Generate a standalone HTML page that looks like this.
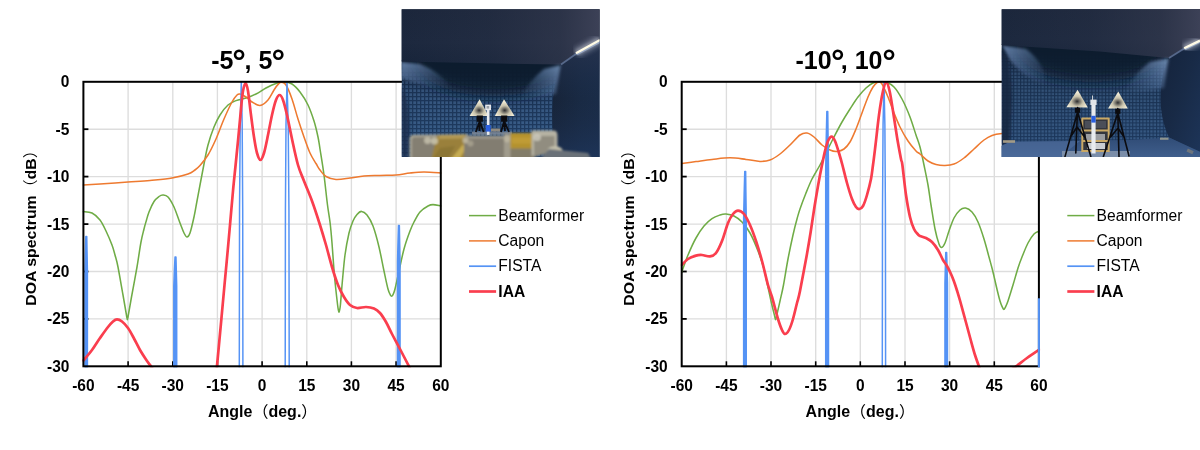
<!DOCTYPE html>
<html lang="en"><head><meta charset="utf-8"><title>DOA spectrum</title>
<style>
html,body{margin:0;padding:0;background:#fff;}
body{width:1200px;height:450px;overflow:hidden;}
svg{display:block;}
text{font-family:"Liberation Sans","Noto Sans CJK SC",sans-serif;fill:#000;}
.tk text{font-size:15.5px;font-weight:bold;}
.ax{font-size:16px;font-weight:bold;}
.pr{font-weight:normal;}
.tt{font-size:25px;font-weight:bold;}
.dg{font-size:34px;}
.lg{font-size:15.6px;}
.lgb{font-size:15.6px;font-weight:bold;}
</style></head>
<body>
<svg width="1200" height="450" viewBox="0 0 1200 450">
<rect width="1200" height="450" fill="#fff"/>

<defs>
<clipPath id="pc1"><rect x="401.6" y="9.2" width="198" height="147.8"/></clipPath>
<clipPath id="pc2"><rect x="1001.6" y="9.2" width="198.4" height="147.8"/></clipPath>
<linearGradient id="p1bg" x1="0" y1="0" x2="0" y2="1">
<stop offset="0" stop-color="#17233a"/><stop offset="0.35" stop-color="#172b48"/><stop offset="0.6" stop-color="#203e66"/><stop offset="0.8" stop-color="#244772"/><stop offset="1" stop-color="#254a7a"/></linearGradient>
<linearGradient id="p1shade" x1="0" y1="0" x2="0" y2="1">
<stop offset="0" stop-color="#111c2f" stop-opacity="1"/><stop offset="0.25" stop-color="#121e32" stop-opacity="0.9"/><stop offset="0.5" stop-color="#142136" stop-opacity="0.55"/><stop offset="0.75" stop-color="#142136" stop-opacity="0.22"/><stop offset="1" stop-color="#142136" stop-opacity="0"/></linearGradient>
<linearGradient id="ceilx" x1="0" y1="0" x2="1" y2="0">
<stop offset="0" stop-color="#3c4054" stop-opacity="0"/><stop offset="0.45" stop-color="#3c4054" stop-opacity="0.18"/><stop offset="0.8" stop-color="#3c4054" stop-opacity="0.5"/><stop offset="1" stop-color="#40445a" stop-opacity="0.9"/></linearGradient>
<linearGradient id="p1rw" x1="0" y1="0" x2="1" y2="0">
<stop offset="0" stop-color="#172439"/><stop offset="0.6" stop-color="#192a44"/><stop offset="1" stop-color="#1a2c48"/></linearGradient>
<linearGradient id="rwv" x1="0" y1="0" x2="0" y2="1">
<stop offset="0" stop-color="#2c3650" stop-opacity="0.8"/><stop offset="0.5" stop-color="#1c2e4c" stop-opacity="0"/><stop offset="1" stop-color="#213c68" stop-opacity="0.5"/></linearGradient>
<linearGradient id="glowL" x1="0" y1="0" x2="1" y2="1">
<stop offset="0" stop-color="#7391bb" stop-opacity="0.85"/><stop offset="0.45" stop-color="#5c7ca8" stop-opacity="0.5"/><stop offset="1" stop-color="#4a6a96" stop-opacity="0"/></linearGradient>
<linearGradient id="glowR" x1="1" y1="0" x2="0" y2="1">
<stop offset="0" stop-color="#7d9bc4" stop-opacity="0.85"/><stop offset="0.45" stop-color="#5c7ca8" stop-opacity="0.5"/><stop offset="1" stop-color="#4a6a96" stop-opacity="0"/></linearGradient>
<filter id="b6" x="-30%" y="-50%" width="160%" height="200%"><feGaussianBlur stdDeviation="7"/></filter>
<filter id="b15" x="-10%" y="-30%" width="120%" height="160%"><feGaussianBlur stdDeviation="1.3"/></filter>
<linearGradient id="p1ceil" x1="0" y1="0" x2="0" y2="1">
<stop offset="0" stop-color="#1b263b"/><stop offset="0.6" stop-color="#1c283e"/><stop offset="1" stop-color="#17243a"/></linearGradient>
<linearGradient id="p2ceil" x1="0" y1="0" x2="0" y2="1">
<stop offset="0" stop-color="#142036"/><stop offset="1" stop-color="#1b2b45"/></linearGradient>
<linearGradient id="p1wall" x1="0" y1="0" x2="0" y2="1">
<stop offset="0" stop-color="#223c60"/><stop offset="0.3" stop-color="#2c4c78"/><stop offset="1" stop-color="#28446c"/></linearGradient>
<linearGradient id="p2wall" x1="0" y1="0" x2="0" y2="1">
<stop offset="0" stop-color="#213a5e"/><stop offset="0.3" stop-color="#2a4873"/><stop offset="1" stop-color="#243f66"/></linearGradient>
<linearGradient id="p2floor" x1="0" y1="0" x2="0" y2="1">
<stop offset="0" stop-color="#304c76"/><stop offset="1" stop-color="#3f5e8c"/></linearGradient>
<linearGradient id="p2bg" x1="0" y1="0" x2="0" y2="1">
<stop offset="0" stop-color="#17233a"/><stop offset="0.26" stop-color="#162a47"/><stop offset="0.55" stop-color="#1d395c"/><stop offset="0.8" stop-color="#21426c"/><stop offset="1" stop-color="#224470"/></linearGradient>
<linearGradient id="p2rw" x1="0" y1="0" x2="1" y2="1">
<stop offset="0" stop-color="#14223a"/><stop offset="0.5" stop-color="#182a46"/><stop offset="1" stop-color="#1d3458"/></linearGradient>
<pattern id="gridpat2" width="3.4" height="3.4" patternUnits="userSpaceOnUse">
<rect width="3.4" height="3.4" fill="#12223c"/><rect x="1.1" y="1.1" width="2.3" height="2.3" fill="#5679a2"/></pattern>
<radialGradient id="refl" cx="0.5" cy="0.66" r="0.5">
<stop offset="0" stop-color="#2e2e30"/><stop offset="0.22" stop-color="#6e6c64"/><stop offset="0.55" stop-color="#c9c3ac"/><stop offset="1" stop-color="#f0ead3"/></radialGradient>
<pattern id="gridpat" width="4" height="4" patternUnits="userSpaceOnUse">
<rect width="4" height="4" fill="#13233c"/><rect x="1.3" y="1.3" width="2.7" height="2.7" fill="#5a7ea8"/></pattern>
<filter id="b2" x="-20%" y="-20%" width="140%" height="140%"><feGaussianBlur stdDeviation="1.5"/></filter>
<filter id="b3" x="-10%" y="-30%" width="120%" height="160%"><feGaussianBlur stdDeviation="2"/></filter>
<filter id="b4" x="-50%" y="-50%" width="200%" height="200%"><feGaussianBlur stdDeviation="5"/></filter>
</defs>

<line x1="128.1" y1="81.8" x2="128.1" y2="366.3" stroke="#dddddd" stroke-width="1.35"/>
<line x1="172.8" y1="81.8" x2="172.8" y2="366.3" stroke="#dddddd" stroke-width="1.35"/>
<line x1="217.4" y1="81.8" x2="217.4" y2="366.3" stroke="#dddddd" stroke-width="1.35"/>
<line x1="262.1" y1="81.8" x2="262.1" y2="366.3" stroke="#dddddd" stroke-width="1.35"/>
<line x1="306.8" y1="81.8" x2="306.8" y2="366.3" stroke="#dddddd" stroke-width="1.35"/>
<line x1="351.4" y1="81.8" x2="351.4" y2="366.3" stroke="#dddddd" stroke-width="1.35"/>
<line x1="396.1" y1="81.8" x2="396.1" y2="366.3" stroke="#dddddd" stroke-width="1.35"/>
<line x1="83.4" y1="129.2" x2="440.8" y2="129.2" stroke="#dddddd" stroke-width="1.35"/>
<line x1="83.4" y1="176.6" x2="440.8" y2="176.6" stroke="#dddddd" stroke-width="1.35"/>
<line x1="83.4" y1="224.1" x2="440.8" y2="224.1" stroke="#dddddd" stroke-width="1.35"/>
<line x1="83.4" y1="271.5" x2="440.8" y2="271.5" stroke="#dddddd" stroke-width="1.35"/>
<line x1="83.4" y1="318.9" x2="440.8" y2="318.9" stroke="#dddddd" stroke-width="1.35"/>
<line x1="128.1" y1="366.3" x2="128.1" y2="361.3" stroke="#000" stroke-width="1.6"/>
<line x1="172.8" y1="366.3" x2="172.8" y2="361.3" stroke="#000" stroke-width="1.6"/>
<line x1="217.4" y1="366.3" x2="217.4" y2="361.3" stroke="#000" stroke-width="1.6"/>
<line x1="262.1" y1="366.3" x2="262.1" y2="361.3" stroke="#000" stroke-width="1.6"/>
<line x1="306.8" y1="366.3" x2="306.8" y2="361.3" stroke="#000" stroke-width="1.6"/>
<line x1="351.4" y1="366.3" x2="351.4" y2="361.3" stroke="#000" stroke-width="1.6"/>
<line x1="396.1" y1="366.3" x2="396.1" y2="361.3" stroke="#000" stroke-width="1.6"/>
<line x1="83.4" y1="129.2" x2="88.4" y2="129.2" stroke="#000" stroke-width="1.8"/>
<line x1="83.4" y1="176.6" x2="88.4" y2="176.6" stroke="#000" stroke-width="1.8"/>
<line x1="83.4" y1="224.1" x2="88.4" y2="224.1" stroke="#000" stroke-width="1.8"/>
<line x1="83.4" y1="271.5" x2="88.4" y2="271.5" stroke="#000" stroke-width="1.8"/>
<line x1="83.4" y1="318.9" x2="88.4" y2="318.9" stroke="#000" stroke-width="1.8"/>
<clipPath id="clip0"><rect x="82.4" y="80.8" width="359.6" height="286.5"/></clipPath>
<g clip-path="url(#clip0)" fill="none" stroke-linejoin="round" stroke-linecap="round">
<path d="M83.3,211.6 C84.8,211.8 89.2,211.6 92.0,213.0 C94.8,214.4 97.7,217.0 100.0,220.0 C102.3,223.0 104.0,226.8 106.0,231.0 C108.0,235.2 110.5,241.0 112.0,245.0 C113.5,249.0 114.0,251.3 115.0,255.0 C116.0,258.7 116.7,260.3 118.0,267.0 C119.3,273.7 121.6,287.2 123.0,295.0 C124.4,302.8 125.5,309.4 126.2,313.5 C126.9,317.6 127.0,319.6 127.4,319.6 C127.8,319.6 127.9,317.3 128.6,313.5 C129.3,309.7 130.1,304.8 131.5,297.0 C132.9,289.2 135.4,276.2 137.0,267.0 C138.6,257.8 139.8,248.3 141.0,242.0 C142.2,235.7 143.1,232.7 144.0,229.0 C144.9,225.3 145.7,222.8 146.5,220.0 C147.3,217.2 147.8,215.1 149.0,212.0 C150.2,208.9 152.3,204.1 154.0,201.5 C155.7,198.9 157.5,197.6 159.0,196.5 C160.5,195.4 161.5,194.9 163.0,195.0 C164.5,195.1 166.2,195.0 168.0,197.0 C169.8,199.0 172.0,202.7 174.0,207.0 C176.0,211.3 178.3,218.7 180.0,223.0 C181.7,227.3 182.8,230.7 184.0,233.0 C185.2,235.3 186.0,237.0 187.0,237.0 C188.0,237.0 188.8,236.3 190.0,233.0 C191.2,229.7 192.8,222.3 194.0,217.0 C195.2,211.7 196.0,206.3 197.0,201.0 C198.0,195.7 198.8,191.2 200.0,185.0 C201.2,178.8 202.7,170.7 204.0,164.0 C205.3,157.3 206.3,151.2 208.0,145.0 C209.7,138.8 212.0,132.0 214.0,127.0 C216.0,122.0 217.7,118.7 220.0,115.0 C222.3,111.3 225.3,107.4 228.0,105.0 C230.7,102.6 233.0,101.8 236.0,100.6 C239.0,99.4 242.7,99.1 246.0,98.0 C249.3,96.9 252.7,95.7 256.0,94.0 C259.3,92.3 262.7,89.8 266.0,88.0 C269.3,86.2 273.0,84.4 276.0,83.4 C279.0,82.4 281.3,81.9 284.0,82.0 C286.7,82.1 289.3,82.3 292.0,84.0 C294.7,85.7 297.3,88.5 300.0,92.0 C302.7,95.5 305.7,100.2 308.0,105.0 C310.3,109.8 312.3,115.7 314.0,121.0 C315.7,126.3 317.0,132.3 318.0,137.0 C319.0,141.7 319.0,142.7 320.0,149.0 C321.0,155.3 322.8,165.7 324.0,175.0 C325.2,184.3 326.5,197.2 327.5,205.0 C328.5,212.8 329.2,215.7 330.0,222.0 C330.8,228.3 331.3,234.2 332.0,243.0 C332.7,251.8 333.5,264.7 334.4,275.0 C335.3,285.3 336.9,299.1 337.6,305.0 C338.3,310.9 338.3,309.3 338.5,310.5 C338.7,311.7 338.8,312.2 339.0,312.2 C339.2,312.2 339.3,311.7 339.5,310.5 C339.7,309.3 339.9,309.9 340.4,305.0 C340.9,300.1 341.6,289.3 342.4,281.0 C343.2,272.7 343.9,263.0 345.0,255.0 C346.1,247.0 347.7,238.7 349.0,233.0 C350.3,227.3 351.7,224.1 353.0,221.0 C354.3,217.9 355.6,216.1 357.0,214.5 C358.4,212.9 359.9,211.3 361.6,211.4 C363.3,211.5 365.1,212.6 367.0,215.0 C368.9,217.4 371.0,220.7 373.0,226.0 C375.0,231.3 377.2,239.5 379.0,247.0 C380.8,254.5 382.5,264.0 384.0,271.0 C385.5,278.0 386.9,285.0 388.0,289.0 C389.1,293.0 389.7,293.6 390.3,294.8 C390.9,296.0 391.2,296.2 391.6,296.2 C392.0,296.2 392.3,296.0 392.9,294.8 C393.5,293.6 394.0,293.0 395.0,289.0 C396.0,285.0 397.5,277.7 399.0,271.0 C400.5,264.3 402.2,255.7 404.0,249.0 C405.8,242.3 408.3,235.5 410.0,231.0 C411.7,226.5 412.3,225.2 414.0,222.0 C415.7,218.8 417.7,214.7 420.0,212.0 C422.3,209.3 425.8,207.2 428.0,206.0 C430.2,204.8 430.9,204.6 433.0,204.6 C435.1,204.6 439.5,205.8 440.8,206.0" stroke="#6fac46" stroke-width="1.55"/>
<path d="M83.3,185.0 C86.1,184.8 92.5,184.5 100.0,184.0 C107.5,183.5 119.7,182.6 128.0,182.0 C136.3,181.4 142.7,181.1 150.0,180.4 C157.3,179.7 165.7,179.1 172.0,178.0 C178.3,176.9 184.2,175.3 188.0,174.0 C191.8,172.7 193.0,171.4 195.0,170.0 C197.0,168.6 197.8,168.0 200.0,165.5 C202.2,163.0 205.3,159.4 208.0,155.0 C210.7,150.6 213.3,145.0 216.0,139.0 C218.7,133.0 221.3,125.2 224.0,119.0 C226.7,112.8 229.8,106.0 232.0,102.0 C234.2,98.0 235.7,96.3 237.0,95.0 C238.3,93.7 238.5,93.7 240.0,94.0 C241.5,94.3 244.0,95.7 246.0,97.0 C248.0,98.3 249.7,100.6 252.0,102.0 C254.3,103.4 257.3,105.7 260.0,105.4 C262.7,105.1 265.7,102.6 268.0,100.0 C270.3,97.4 272.2,92.8 274.0,90.0 C275.8,87.2 277.7,84.7 279.0,83.4 C280.3,82.1 280.8,82.1 282.0,82.4 C283.2,82.7 284.3,82.2 286.0,85.0 C287.7,87.8 290.0,93.3 292.0,99.0 C294.0,104.7 296.0,112.7 298.0,119.0 C300.0,125.3 302.0,131.3 304.0,137.0 C306.0,142.7 308.0,148.6 310.0,153.0 C312.0,157.4 314.3,160.7 316.0,163.5 C317.7,166.3 318.3,167.8 320.0,170.0 C321.7,172.2 323.3,174.9 326.0,176.5 C328.7,178.1 332.0,179.2 336.0,179.4 C340.0,179.7 345.3,178.6 350.0,178.0 C354.7,177.4 359.0,176.4 364.0,176.0 C369.0,175.6 374.7,175.6 380.0,175.4 C385.3,175.2 391.0,175.4 396.0,175.0 C401.0,174.6 405.3,173.5 410.0,173.0 C414.7,172.5 418.9,172.0 424.0,172.0 C429.1,172.0 438.0,172.8 440.8,173.0" stroke="#ee7a30" stroke-width="1.55"/>
<path d="M85.00,368.30 L85.00,270.06 L85.45,251.33 L85.85,236.60 L86.75,236.60 L87.02,251.33 L87.40,270.06 L87.40,368.30Z" stroke="#5593f5" stroke-width="1.5" fill="#5593f5"/>
<path d="M173.80,368.30 L173.80,286.30 L174.40,269.80 L175.05,256.90 L175.95,256.90 L176.28,269.80 L176.70,286.30 L176.70,368.30Z" stroke="#5593f5" stroke-width="1.5" fill="#5593f5"/>
<path d="M239.30,368.30 L239.54,209.94 L240.20,124.65 L241.30,82.00 L242.18,124.65 L242.71,209.94 L242.90,368.30" stroke="#5593f5" stroke-width="1.5"/>
<path d="M285.20,368.30 L285.42,209.94 L286.01,124.65 L287.00,82.00 L288.21,124.65 L288.94,209.94 L289.20,368.30" stroke="#5593f5" stroke-width="1.5"/>
<path d="M397.55,368.30 L397.55,261.26 L398.02,241.32 L398.45,225.60 L399.35,225.60 L399.65,241.32 L400.05,261.26 L400.05,368.30Z" stroke="#5593f5" stroke-width="1.5" fill="#5593f5"/>

<path d="M83.3,360.5 C84.8,358.8 89.2,353.8 92.0,350.0 C94.8,346.2 97.3,341.8 100.0,338.0 C102.7,334.2 105.8,329.8 108.0,327.0 C110.2,324.2 111.5,322.8 113.0,321.5 C114.5,320.2 115.5,319.4 117.0,319.4 C118.5,319.4 120.2,320.1 122.0,321.5 C123.8,322.9 126.0,325.2 128.0,328.0 C130.0,330.8 132.0,334.8 134.0,338.5 C136.0,342.2 138.0,346.5 140.0,350.0 C142.0,353.5 144.2,356.8 146.0,359.5 C147.8,362.2 149.5,364.3 151.0,366.4 C152.5,368.5 154.3,371.1 155.0,372.0" stroke="#fa3e4e" stroke-width="2.7"/>
<path d="M215.5,380.0 C215.8,377.7 215.5,381.8 217.0,366.0 C218.5,350.2 222.8,303.5 224.5,285.0 C226.2,266.5 226.4,265.0 227.3,255.0 C228.2,245.0 229.1,235.7 230.0,225.0 C230.9,214.3 232.1,201.0 233.0,191.0 C233.9,181.0 234.8,173.3 235.6,165.0 C236.4,156.7 237.1,150.3 238.0,141.0 C238.9,131.7 240.2,117.3 241.0,109.0 C241.8,100.7 242.2,95.3 243.0,91.0 C243.8,86.7 244.8,83.0 245.6,83.0 C246.4,83.0 247.1,85.7 248.0,91.0 C248.9,96.3 250.0,107.3 251.0,115.0 C252.0,122.7 253.0,130.7 254.0,137.0 C255.0,143.3 255.9,149.2 257.0,153.0 C258.1,156.8 259.2,160.0 260.4,160.0 C261.6,160.0 262.7,157.2 264.0,153.0 C265.3,148.8 266.7,141.3 268.0,135.0 C269.3,128.7 270.7,120.8 272.0,115.0 C273.3,109.2 274.7,103.3 276.0,100.0 C277.3,96.7 278.4,95.0 279.6,95.0 C280.8,95.0 281.8,96.7 283.0,100.0 C284.2,103.3 285.5,108.5 287.0,115.0 C288.5,121.5 290.2,130.7 292.0,139.0 C293.8,147.3 296.0,158.0 298.0,165.0 C300.0,172.0 301.7,175.0 304.0,181.0 C306.3,187.0 309.3,193.7 312.0,201.0 C314.7,208.3 317.7,217.7 320.0,225.0 C322.3,232.3 324.0,238.0 326.0,245.0 C328.0,252.0 330.0,260.3 332.0,267.0 C334.0,273.7 336.0,280.0 338.0,285.0 C340.0,290.0 342.0,293.7 344.0,297.0 C346.0,300.3 347.8,303.2 350.0,305.0 C352.2,306.8 354.3,307.7 357.0,308.0 C359.7,308.3 363.2,306.9 366.0,307.0 C368.8,307.1 371.7,307.6 374.0,308.6 C376.3,309.6 378.0,310.8 380.0,313.0 C382.0,315.2 384.0,318.5 386.0,322.0 C388.0,325.5 389.7,329.5 392.0,334.0 C394.3,338.5 397.2,343.6 400.0,349.0 C402.8,354.4 406.8,362.2 409.0,366.4 C411.2,370.6 412.3,372.7 413.0,374.0" stroke="#fa3e4e" stroke-width="2.7"/>
</g>
<rect x="83.4" y="81.8" width="357.4" height="284.5" fill="none" stroke="#000" stroke-width="2"/>
<g class="tk">
<text transform="translate(83.4,390.8) scale(1,1.06)" text-anchor="middle">-60</text>
<text transform="translate(128.1,390.8) scale(1,1.06)" text-anchor="middle">-45</text>
<text transform="translate(172.8,390.8) scale(1,1.06)" text-anchor="middle">-30</text>
<text transform="translate(217.4,390.8) scale(1,1.06)" text-anchor="middle">-15</text>
<text transform="translate(262.1,390.8) scale(1,1.06)" text-anchor="middle">0</text>
<text transform="translate(306.8,390.8) scale(1,1.06)" text-anchor="middle">15</text>
<text transform="translate(351.4,390.8) scale(1,1.06)" text-anchor="middle">30</text>
<text transform="translate(396.1,390.8) scale(1,1.06)" text-anchor="middle">45</text>
<text transform="translate(440.8,390.8) scale(1,1.06)" text-anchor="middle">60</text>
<text transform="translate(69.4,87.2) scale(1,1.06)" text-anchor="end">0</text>
<text transform="translate(69.4,134.6) scale(1,1.06)" text-anchor="end">-5</text>
<text transform="translate(69.4,182.0) scale(1,1.06)" text-anchor="end">-10</text>
<text transform="translate(69.4,229.5) scale(1,1.06)" text-anchor="end">-15</text>
<text transform="translate(69.4,276.9) scale(1,1.06)" text-anchor="end">-20</text>
<text transform="translate(69.4,324.3) scale(1,1.06)" text-anchor="end">-25</text>
<text transform="translate(69.4,371.7) scale(1,1.06)" text-anchor="end">-30</text>
</g>
<text class="ax" transform="translate(208.0,416.5) scale(1,0.985)">Angle<tspan class="pr">（</tspan>deg.<tspan class="pr">）</tspan></text>
<text class="ax" transform="translate(35.6,305.8) rotate(-90) scale(0.992,0.93)">DOA spectrum<tspan class="pr">（</tspan>dB<tspan class="pr">）</tspan></text>
<text class="tt" y="68.6"><tspan x="211.3">-5</tspan><tspan class="dg" x="232.2" dy="4.7">°</tspan><tspan x="244.6" dy="-4.7">, 5</tspan><tspan class="dg" x="271.6" dy="4.7">°</tspan></text>
<line x1="469.0" y1="215.6" x2="496.1" y2="215.6" stroke="#6fac46" stroke-width="1.5"/>
<text class="lg" x="498.3" y="220.8">Beamformer</text>
<line x1="469.0" y1="240.9" x2="496.1" y2="240.9" stroke="#ee7a30" stroke-width="1.5"/>
<text class="lg" x="498.3" y="246.1">Capon</text>
<line x1="469.0" y1="266.2" x2="496.1" y2="266.2" stroke="#5593f5" stroke-width="1.7"/>
<text class="lg" x="498.3" y="271.4">FISTA</text>
<line x1="469.0" y1="291.5" x2="496.1" y2="291.5" stroke="#fa3e4e" stroke-width="2.7"/>
<text class="lgb" x="498.3" y="296.7">IAA</text>
<line x1="726.4" y1="81.8" x2="726.4" y2="366.3" stroke="#dddddd" stroke-width="1.35"/>
<line x1="771.0" y1="81.8" x2="771.0" y2="366.3" stroke="#dddddd" stroke-width="1.35"/>
<line x1="815.7" y1="81.8" x2="815.7" y2="366.3" stroke="#dddddd" stroke-width="1.35"/>
<line x1="860.3" y1="81.8" x2="860.3" y2="366.3" stroke="#dddddd" stroke-width="1.35"/>
<line x1="905.0" y1="81.8" x2="905.0" y2="366.3" stroke="#dddddd" stroke-width="1.35"/>
<line x1="949.6" y1="81.8" x2="949.6" y2="366.3" stroke="#dddddd" stroke-width="1.35"/>
<line x1="994.3" y1="81.8" x2="994.3" y2="366.3" stroke="#dddddd" stroke-width="1.35"/>
<line x1="681.7" y1="129.2" x2="1038.9" y2="129.2" stroke="#dddddd" stroke-width="1.35"/>
<line x1="681.7" y1="176.6" x2="1038.9" y2="176.6" stroke="#dddddd" stroke-width="1.35"/>
<line x1="681.7" y1="224.1" x2="1038.9" y2="224.1" stroke="#dddddd" stroke-width="1.35"/>
<line x1="681.7" y1="271.5" x2="1038.9" y2="271.5" stroke="#dddddd" stroke-width="1.35"/>
<line x1="681.7" y1="318.9" x2="1038.9" y2="318.9" stroke="#dddddd" stroke-width="1.35"/>
<line x1="726.4" y1="366.3" x2="726.4" y2="361.3" stroke="#000" stroke-width="1.6"/>
<line x1="771.0" y1="366.3" x2="771.0" y2="361.3" stroke="#000" stroke-width="1.6"/>
<line x1="815.7" y1="366.3" x2="815.7" y2="361.3" stroke="#000" stroke-width="1.6"/>
<line x1="860.3" y1="366.3" x2="860.3" y2="361.3" stroke="#000" stroke-width="1.6"/>
<line x1="905.0" y1="366.3" x2="905.0" y2="361.3" stroke="#000" stroke-width="1.6"/>
<line x1="949.6" y1="366.3" x2="949.6" y2="361.3" stroke="#000" stroke-width="1.6"/>
<line x1="994.3" y1="366.3" x2="994.3" y2="361.3" stroke="#000" stroke-width="1.6"/>
<line x1="681.7" y1="129.2" x2="686.7" y2="129.2" stroke="#000" stroke-width="1.8"/>
<line x1="681.7" y1="176.6" x2="686.7" y2="176.6" stroke="#000" stroke-width="1.8"/>
<line x1="681.7" y1="224.1" x2="686.7" y2="224.1" stroke="#000" stroke-width="1.8"/>
<line x1="681.7" y1="271.5" x2="686.7" y2="271.5" stroke="#000" stroke-width="1.8"/>
<line x1="681.7" y1="318.9" x2="686.7" y2="318.9" stroke="#000" stroke-width="1.8"/>
<clipPath id="clip598"><rect x="680.7" y="80.8" width="359.4" height="286.5"/></clipPath>
<g clip-path="url(#clip598)" fill="none" stroke-linejoin="round" stroke-linecap="round">
<path d="M681.8,272.0 C682.8,269.2 685.6,260.7 688.0,255.0 C690.4,249.3 693.3,242.8 696.0,238.0 C698.7,233.2 701.3,229.2 704.0,226.0 C706.7,222.8 709.3,220.4 712.0,218.6 C714.7,216.8 717.7,215.8 720.0,215.0 C722.3,214.2 723.7,213.8 726.0,214.0 C728.3,214.2 731.3,214.7 734.0,216.0 C736.7,217.3 739.3,219.2 742.0,222.0 C744.7,224.8 747.3,228.2 750.0,233.0 C752.7,237.8 755.7,245.0 758.0,251.0 C760.3,257.0 762.4,263.3 764.0,269.0 C765.6,274.7 766.3,279.7 767.5,285.0 C768.7,290.3 769.9,296.0 771.0,301.0 C772.1,306.0 773.6,311.9 774.4,315.0 C775.2,318.1 775.2,319.6 775.6,319.6 C776.0,319.6 776.1,318.1 776.8,315.0 C777.5,311.9 778.9,306.0 780.0,301.0 C781.1,296.0 782.2,292.0 783.5,285.0 C784.8,278.0 786.4,267.3 788.0,259.0 C789.6,250.7 791.5,241.7 793.0,235.0 C794.5,228.3 795.8,223.3 797.0,219.0 C798.2,214.7 798.5,213.3 800.0,209.0 C801.5,204.7 804.0,198.0 806.0,193.0 C808.0,188.0 809.7,183.7 812.0,179.0 C814.3,174.3 817.7,169.3 820.0,165.0 C822.3,160.7 823.7,157.7 826.0,153.0 C828.3,148.3 831.3,142.2 834.0,137.0 C836.7,131.8 839.3,126.7 842.0,122.0 C844.7,117.3 847.3,113.2 850.0,109.0 C852.7,104.8 855.3,100.5 858.0,97.0 C860.7,93.5 863.5,90.3 866.0,88.0 C868.5,85.7 870.7,84.1 873.0,83.0 C875.3,81.9 877.8,81.8 880.0,81.6 C882.2,81.4 883.7,81.1 886.0,82.0 C888.3,82.9 891.3,84.2 894.0,87.0 C896.7,89.8 899.3,94.0 902.0,99.0 C904.7,104.0 907.7,111.0 910.0,117.0 C912.3,123.0 914.3,130.0 916.0,135.0 C917.7,140.0 918.7,142.0 920.0,147.0 C921.3,152.0 922.7,158.7 924.0,165.0 C925.3,171.3 926.8,178.3 928.0,185.0 C929.2,191.7 929.8,197.7 931.0,205.0 C932.2,212.3 933.7,222.5 935.0,229.0 C936.3,235.5 937.9,240.9 939.0,244.0 C940.1,247.1 940.6,247.6 941.6,247.4 C942.6,247.2 943.8,245.7 945.0,243.0 C946.2,240.3 947.5,235.2 949.0,231.0 C950.5,226.8 952.2,221.5 954.0,218.0 C955.8,214.5 958.1,211.7 960.0,210.0 C961.9,208.3 963.6,207.7 965.6,208.0 C967.6,208.3 969.9,209.7 972.0,212.0 C974.1,214.3 976.0,217.5 978.0,222.0 C980.0,226.5 982.2,233.2 984.0,239.0 C985.8,244.8 987.6,251.8 989.0,257.0 C990.4,262.2 991.3,265.3 992.5,270.0 C993.7,274.7 994.8,279.8 996.0,285.0 C997.2,290.2 998.9,297.2 1000.0,301.0 C1001.1,304.8 1002.0,306.2 1002.6,307.6 C1003.2,309.0 1003.5,309.5 1003.9,309.5 C1004.3,309.5 1004.5,309.0 1005.2,307.6 C1005.9,306.2 1006.7,304.8 1008.0,301.0 C1009.3,297.2 1011.3,290.5 1013.0,285.0 C1014.7,279.5 1016.5,272.7 1018.0,268.0 C1019.5,263.3 1020.3,261.2 1022.0,257.0 C1023.7,252.8 1026.0,246.8 1028.0,243.0 C1030.0,239.2 1032.1,236.0 1034.0,234.0 C1035.9,232.0 1038.4,231.5 1039.3,231.0" stroke="#6fac46" stroke-width="1.55"/>
<path d="M681.8,163.6 C684.2,163.3 691.0,162.3 696.0,161.6 C701.0,160.9 706.3,160.0 712.0,159.4 C717.7,158.8 724.3,157.8 730.0,157.8 C735.7,157.8 741.0,158.8 746.0,159.4 C751.0,160.0 756.0,161.3 760.0,161.4 C764.0,161.5 766.7,161.2 770.0,160.0 C773.3,158.8 776.7,156.5 780.0,154.0 C783.3,151.5 786.7,148.2 790.0,145.0 C793.3,141.8 797.2,137.0 800.0,135.0 C802.8,133.0 804.7,132.7 807.0,133.0 C809.3,133.3 811.5,135.0 814.0,137.0 C816.5,139.0 819.3,142.8 822.0,145.0 C824.7,147.2 827.5,148.9 830.0,150.0 C832.5,151.1 834.7,151.6 837.0,151.4 C839.3,151.2 841.8,150.6 844.0,149.0 C846.2,147.4 848.0,145.3 850.0,142.0 C852.0,138.7 854.0,133.8 856.0,129.0 C858.0,124.2 860.0,118.3 862.0,113.0 C864.0,107.7 866.2,101.3 868.0,97.0 C869.8,92.7 871.5,89.4 873.0,87.0 C874.5,84.6 876.0,83.4 877.0,82.6 C878.0,81.8 878.2,81.8 879.0,82.0 C879.8,82.2 880.5,81.5 882.0,84.0 C883.5,86.5 886.0,92.2 888.0,97.0 C890.0,101.8 892.0,108.0 894.0,113.0 C896.0,118.0 897.7,122.3 900.0,127.0 C902.3,131.7 905.3,137.0 908.0,141.0 C910.7,145.0 914.0,148.8 916.0,151.0 C918.0,153.2 918.0,152.3 920.0,154.0 C922.0,155.7 925.3,159.3 928.0,161.0 C930.7,162.7 933.2,163.7 936.0,164.4 C938.8,165.1 942.0,165.5 945.0,165.4 C948.0,165.3 950.8,165.2 954.0,164.0 C957.2,162.8 960.7,160.5 964.0,158.0 C967.3,155.5 970.7,152.0 974.0,149.0 C977.3,146.0 981.0,142.3 984.0,140.0 C987.0,137.7 989.0,136.5 992.0,135.4 C995.0,134.3 997.3,134.0 1002.0,133.6 C1006.7,133.2 1013.8,132.9 1020.0,133.0 C1026.2,133.1 1036.1,133.8 1039.3,134.0" stroke="#ee7a30" stroke-width="1.55"/>
<path d="M743.65,368.30 L743.65,218.06 L744.19,192.18 L744.75,171.60 L745.65,171.60 L745.88,192.18 L746.25,218.06 L746.25,368.30Z" stroke="#5593f5" stroke-width="1.5" fill="#5593f5"/>
<path d="M825.70,368.30 L825.70,170.06 L826.26,137.58 L826.85,111.60 L827.75,111.60 L828.08,137.58 L828.50,170.06 L828.50,368.30Z" stroke="#5593f5" stroke-width="1.5" fill="#5593f5"/>
<path d="M882.30,368.30 L882.50,209.94 L883.06,124.65 L884.00,82.00 L884.88,124.65 L885.41,209.94 L885.60,368.30" stroke="#5593f5" stroke-width="1.5"/>
<path d="M944.95,368.30 L944.95,282.86 L945.39,265.89 L945.75,252.60 L946.65,252.60 L947.01,265.89 L947.45,282.86 L947.45,368.30Z" stroke="#5593f5" stroke-width="1.5" fill="#5593f5"/>

<path d="M681.8,265.0 C682.8,264.0 685.6,260.6 688.0,259.0 C690.4,257.4 693.7,256.3 696.0,255.6 C698.3,254.9 699.7,254.9 702.0,255.0 C704.3,255.1 707.7,256.7 710.0,256.4 C712.3,256.1 714.0,255.6 716.0,253.0 C718.0,250.4 720.0,246.0 722.0,241.0 C724.0,236.0 726.2,227.5 728.0,223.0 C729.8,218.5 731.3,216.1 733.0,214.0 C734.7,211.9 736.2,210.6 738.0,210.6 C739.8,210.6 742.0,211.6 744.0,214.0 C746.0,216.4 748.0,220.5 750.0,225.0 C752.0,229.5 754.0,235.0 756.0,241.0 C758.0,247.0 760.0,253.7 762.0,261.0 C764.0,268.3 766.3,279.0 768.0,285.0 C769.7,291.0 770.3,291.3 772.0,297.0 C773.7,302.7 776.3,313.5 778.0,319.0 C779.7,324.5 780.8,327.5 782.0,330.0 C783.2,332.5 783.8,334.0 785.0,334.0 C786.2,334.0 787.7,332.5 789.0,330.0 C790.3,327.5 791.7,323.5 793.0,319.0 C794.3,314.5 795.8,307.7 797.0,303.0 C798.2,298.3 798.4,299.0 800.0,291.0 C801.6,283.0 805.0,264.7 806.8,255.0 C808.5,245.3 809.3,240.5 810.5,233.0 C811.7,225.5 812.8,217.8 814.0,210.0 C815.2,202.2 816.7,193.5 818.0,186.0 C819.3,178.5 820.8,170.8 822.0,165.0 C823.2,159.2 824.0,155.0 825.0,151.0 C826.0,147.0 826.9,143.4 828.0,141.0 C829.1,138.6 830.4,136.6 831.6,136.6 C832.8,136.6 833.8,138.3 835.0,141.0 C836.2,143.7 837.8,149.0 839.0,153.0 C840.2,157.0 841.1,160.0 842.4,165.0 C843.7,170.0 845.4,177.3 847.0,183.0 C848.6,188.7 850.5,195.0 852.0,199.0 C853.5,203.0 854.8,205.3 856.0,207.0 C857.2,208.7 858.2,209.2 859.4,209.0 C860.6,208.8 861.7,208.3 863.0,206.0 C864.3,203.7 865.7,199.5 867.0,195.0 C868.3,190.5 870.0,184.0 871.0,179.0 C872.0,174.0 872.2,170.7 873.0,165.0 C873.8,159.3 874.5,153.3 875.5,145.0 C876.5,136.7 877.8,124.0 879.0,115.0 C880.2,106.0 881.8,96.4 883.0,91.0 C884.2,85.6 885.3,82.6 886.4,82.6 C887.5,82.6 888.5,86.3 889.6,91.0 C890.7,95.7 891.8,103.3 893.0,111.0 C894.2,118.7 895.7,129.0 897.0,137.0 C898.3,145.0 900.1,154.3 901.0,159.0 C901.9,163.7 901.6,159.0 902.4,165.0 C903.2,171.0 904.7,186.3 906.0,195.0 C907.3,203.7 908.7,211.3 910.0,217.0 C911.3,222.7 912.7,226.1 914.0,229.0 C915.3,231.9 917.0,233.2 918.0,234.4 C919.0,235.6 918.7,235.4 920.0,236.0 C921.3,236.6 924.0,237.0 926.0,238.0 C928.0,239.0 930.0,240.0 932.0,242.0 C934.0,244.0 936.2,247.0 938.0,250.0 C939.8,253.0 941.5,257.3 943.0,260.0 C944.5,262.7 945.7,263.7 947.0,266.0 C948.3,268.3 949.8,271.4 951.0,274.0 C952.2,276.6 953.0,278.8 954.0,281.5 C955.0,284.2 956.0,287.3 957.0,290.5 C958.0,293.7 958.5,295.2 960.0,300.5 C961.5,305.8 964.2,315.8 966.0,322.5 C967.8,329.2 969.5,335.6 971.0,341.0 C972.5,346.4 973.7,350.8 975.0,355.0 C976.3,359.2 978.0,363.6 979.0,366.4 C980.0,369.2 980.7,371.1 981.0,372.0" stroke="#fa3e4e" stroke-width="2.7"/>
<path d="M1008.0,372.0 C1009.3,371.1 1012.8,368.7 1016.0,366.4 C1019.2,364.1 1023.1,360.8 1027.0,358.0 C1030.9,355.2 1037.2,351.0 1039.3,349.6" stroke="#fa3e4e" stroke-width="2.7"/>
</g>
<rect x="681.7" y="81.8" width="357.2" height="284.5" fill="none" stroke="#000" stroke-width="2"/>
<g class="tk">
<text transform="translate(681.7,390.8) scale(1,1.06)" text-anchor="middle">-60</text>
<text transform="translate(726.4,390.8) scale(1,1.06)" text-anchor="middle">-45</text>
<text transform="translate(771.0,390.8) scale(1,1.06)" text-anchor="middle">-30</text>
<text transform="translate(815.7,390.8) scale(1,1.06)" text-anchor="middle">-15</text>
<text transform="translate(860.3,390.8) scale(1,1.06)" text-anchor="middle">0</text>
<text transform="translate(905.0,390.8) scale(1,1.06)" text-anchor="middle">15</text>
<text transform="translate(949.6,390.8) scale(1,1.06)" text-anchor="middle">30</text>
<text transform="translate(994.3,390.8) scale(1,1.06)" text-anchor="middle">45</text>
<text transform="translate(1038.9,390.8) scale(1,1.06)" text-anchor="middle">60</text>
<text transform="translate(667.7,87.2) scale(1,1.06)" text-anchor="end">0</text>
<text transform="translate(667.7,134.6) scale(1,1.06)" text-anchor="end">-5</text>
<text transform="translate(667.7,182.0) scale(1,1.06)" text-anchor="end">-10</text>
<text transform="translate(667.7,229.5) scale(1,1.06)" text-anchor="end">-15</text>
<text transform="translate(667.7,276.9) scale(1,1.06)" text-anchor="end">-20</text>
<text transform="translate(667.7,324.3) scale(1,1.06)" text-anchor="end">-25</text>
<text transform="translate(667.7,371.7) scale(1,1.06)" text-anchor="end">-30</text>
</g>
<text class="ax" transform="translate(805.6,416.5) scale(1,0.985)">Angle<tspan class="pr">（</tspan>deg.<tspan class="pr">）</tspan></text>
<text class="ax" transform="translate(633.9,305.8) rotate(-90) scale(0.992,0.93)">DOA spectrum<tspan class="pr">（</tspan>dB<tspan class="pr">）</tspan></text>
<text class="tt" y="68.6"><tspan x="795.5">-10</tspan><tspan class="dg" x="831" dy="4.7">°</tspan><tspan x="840.8" dy="-4.7">, 10</tspan><tspan class="dg" x="882.2" dy="4.7">°</tspan></text>
<line x1="1067.3" y1="215.6" x2="1094.4" y2="215.6" stroke="#6fac46" stroke-width="1.5"/>
<text class="lg" x="1096.6" y="220.8">Beamformer</text>
<line x1="1067.3" y1="240.9" x2="1094.4" y2="240.9" stroke="#ee7a30" stroke-width="1.5"/>
<text class="lg" x="1096.6" y="246.1">Capon</text>
<line x1="1067.3" y1="266.2" x2="1094.4" y2="266.2" stroke="#5593f5" stroke-width="1.7"/>
<text class="lg" x="1096.6" y="271.4">FISTA</text>
<line x1="1067.3" y1="291.5" x2="1094.4" y2="291.5" stroke="#fa3e4e" stroke-width="2.7"/>
<text class="lgb" x="1096.6" y="296.7">IAA</text>
<line x1="1038.9" y1="298.3" x2="1038.9" y2="367.3" stroke="#5593f5" stroke-width="2.1"/>
<g clip-path="url(#pc1)">
<rect x="401.6" y="9.2" width="198.0" height="147.8" fill="url(#p1bg)"/>
<rect x="401.6" y="61" width="160" height="97" fill="url(#gridpat)" opacity="0.36"/>
<rect x="401.6" y="60" width="170" height="30" fill="url(#p1shade)"/>
<ellipse cx="494" cy="60" rx="78" ry="36" fill="#111c2f" opacity="0.9" filter="url(#b6)"/>
<path d="M401,62 L420,64 Q440,72 452,88 Q425,88 401,78Z" fill="url(#glowL)" filter="url(#b2)"/>
<path d="M401,84 Q412,100 409,157 L401,157Z" fill="#1b2f4d" opacity="0.8" filter="url(#b2)"/>
<path d="M560.5,64.5 L600,40 L600,157 L556,157 Q549,115 555,84Z" fill="url(#p1rw)"/>
<path d="M560.5,64.5 L600,40 L600,157 L556,157 Q549,115 555,84Z" fill="url(#rwv)"/>
<polygon points="401,9 600,9 600,40.5 576,53.5 560.5,64.5 500,63.5 401,61.5" fill="url(#p1ceil)"/>
<polygon points="401,9 600,9 600,40.5 576,53.5 560.5,64.5 500,63.5 401,61.5" fill="url(#ceilx)"/>
<path d="M560.5,65 L556,94 Q536,98 520,98 Q530,80 544,69Z" fill="url(#glowR)" filter="url(#b2)"/>
<line x1="561" y1="64.5" x2="577" y2="53.2" stroke="#56688a" stroke-width="1.8"/>
<line x1="577" y1="54.6" x2="600" y2="42" stroke="#7f9fd0" stroke-width="1.6" opacity="0.7"/>
<line x1="576" y1="53.2" x2="600" y2="40" stroke="#aab4cc" stroke-width="12" opacity="0.3" filter="url(#b3)"/><line x1="576" y1="53.2" x2="600" y2="40" stroke="#fff" stroke-width="6" opacity="0.3" filter="url(#b2)"/>
<line x1="576" y1="53.2" x2="600" y2="40" stroke="#fffbe6" stroke-width="2.3"/>
<rect x="472" y="131.6" width="40" height="3" fill="#8f959f" opacity="0.7"/>
<polygon points="479.6,99.3 469.6,116 488.6,116" fill="url(#refl)"/>
<polygon points="504,99.3 494.8,116 514.6,116" fill="url(#refl)"/>
<path d="M479.8,116 v7 M479.8,121 L475.8,132 M479.8,121 L483.6,132 M479.8,122 L479.3,131 M477.6,116.5 h4.4 v4.4 h-4.4z" stroke="#0c0c10" stroke-width="1.8" fill="#0c0c10"/>
<path d="M504.2,116 v7 M504.2,121 L501,132 M504.2,121 L509,132 M504.2,122 L505,131 M502,116.5 h4.4 v4.4 h-4.4z" stroke="#0c0c10" stroke-width="1.8" fill="#0c0c10"/>
<rect x="486.9" y="109" width="2.6" height="26" fill="#e9ecf0"/>
<rect x="485.2" y="104.6" width="5.8" height="5.6" fill="#e6e8ec"/>
<rect x="486.6" y="106" width="2.6" height="2.6" fill="#9aa0a8"/>
<rect x="485.8" y="125" width="4.8" height="6.6" fill="#2a5fe0"/>
<rect x="491" y="128.5" width="9" height="3" fill="#8f8a80"/>
<g filter="url(#b15)">
<path d="M409.5,139 Q409.5,134.8 414,134.7 L468,134.3 L468,160 L409.5,160Z" fill="#a5a192"/>
<path d="M412,140 Q412,137.3 415,137.3 L440,137 L440,160 L412,160Z" fill="#847f72"/>
<polygon points="437,135.6 465,135 465,160 431,160" fill="#9a803a"/>
<polygon points="440,135 466,134.6 466,138.5 438,139" fill="#b39a55"/>
<polygon points="450,160 463,144.5 467.5,145 459,160" fill="#c6ac52"/>
<polygon points="440,148 455,146 447,160 432,160" fill="#8c7636"/>
<rect x="464" y="136.6" width="46" height="24" fill="#827d71"/>
<rect x="466" y="135.6" width="42" height="3" fill="#9d998c"/>
<rect x="504" y="133.6" width="8" height="27" fill="#a09b8c"/>
<rect x="510.5" y="133" width="22" height="16" fill="#b4922f"/>
<rect x="512" y="137.5" width="19" height="6" fill="#c09c34"/>
<rect x="510.5" y="148.5" width="24" height="12" fill="#827c69"/>
<path d="M531.5,130.6 L553,130.6 Q557.4,130.6 557.4,135 L557.4,151 L531.5,156Z" fill="#b6b2a3"/>
<path d="M534,136 L554.5,136 L554.5,151 L534,157Z" fill="#918d80"/>
<ellipse cx="555" cy="150.5" rx="7.5" ry="4.2" fill="#c6c2ae"/>
<path d="M541,158 L549,149 L588,153 L592,160 L541,160Z" fill="#6b7178"/>
<ellipse cx="427.5" cy="140.5" rx="3.4" ry="3.4" fill="#cbc6b0" opacity="0.8"/>
<ellipse cx="434.5" cy="141" rx="3.6" ry="3.6" fill="#d0cab2" opacity="0.8"/>
<ellipse cx="465.5" cy="140.5" rx="3" ry="3" fill="#c9c3aa" opacity="0.75"/>
<ellipse cx="470.5" cy="143.5" rx="3" ry="3" fill="#b9b39c" opacity="0.6"/>
<ellipse cx="507" cy="139" rx="3" ry="3.4" fill="#c9c3aa" opacity="0.6"/>
<ellipse cx="537" cy="137.5" rx="4" ry="3.6" fill="#d6d3c6" opacity="0.7"/>
</g>
</g>
<g clip-path="url(#pc2)">
<rect x="1001.6" y="9.2" width="198.4" height="147.8" fill="url(#p2bg)"/>
<rect x="1001.6" y="44" width="170" height="100" fill="url(#gridpat2)" opacity="0.38"/>
<rect x="1001.6" y="44" width="175" height="30" fill="url(#p1shade)"/>
<ellipse cx="1092" cy="46" rx="76" ry="36" fill="#111c2f" opacity="0.9" filter="url(#b6)"/>
<path d="M1002,45.5 L1026,49 Q1046,64 1046,86 Q1024,78 1010,60Z" fill="url(#glowL)" filter="url(#b2)"/>
<path d="M1001,47 Q1012,62 1012,100 L1010,141 L1001,146Z" fill="#16263f" opacity="0.85" filter="url(#b2)"/>
<path d="M1168.5,58 L1200,40.5 L1200,152 L1169,137.5 Q1156,110 1163,74Z" fill="url(#p2rw)"/>
<polygon points="1001,9 1200,9 1200,40.8 1184,48.5 1168.5,58 1100,51.5 1001,45" fill="url(#p1ceil)"/>
<polygon points="1001,9 1200,9 1200,40.8 1184,48.5 1168.5,58 1100,51.5 1001,45" fill="url(#ceilx)"/>
<path d="M1168.5,58.5 L1164,88 Q1140,92 1124,92 Q1136,72 1150,62Z" fill="url(#glowR)" filter="url(#b2)"/>
<line x1="1169" y1="58" x2="1185" y2="48" stroke="#56688a" stroke-width="1.8"/>
<line x1="1185" y1="49.6" x2="1200" y2="42.2" stroke="#7f9fd0" stroke-width="1.6" opacity="0.7"/>
<line x1="1184.2" y1="48.3" x2="1200" y2="40.6" stroke="#aab4cc" stroke-width="12" opacity="0.3" filter="url(#b3)"/><line x1="1184.2" y1="48.3" x2="1200" y2="40.6" stroke="#fff" stroke-width="6" opacity="0.3" filter="url(#b2)"/>
<line x1="1184.2" y1="48.3" x2="1200" y2="40.6" stroke="#fffbe6" stroke-width="2.3"/>
<polygon points="1001,146 1010,141.7 1130,140 1169,137.5 1200,151.7 1200,157 1001,157" fill="url(#p2floor)"/>
<polygon points="1001,146 1010,141.7 1080,141 1060,157 1001,157" fill="#5373a4" opacity="0.55"/>
<rect x="1003" y="140.2" width="12" height="2.6" fill="#a39b86"/>
<rect x="1160" y="137.6" width="8.5" height="2.2" fill="#8f958f"/>
<rect x="1187" y="149.6" width="6.5" height="3.4" fill="#6d747c" transform="rotate(25 1190 151)"/>
<rect x="1062" y="151" width="68" height="6.5" fill="#8696ae" opacity="0.85"/>
<rect x="1082" y="118" width="27" height="33" fill="#33363e"/>
<rect x="1085" y="121" width="21" height="7" fill="#4a4e58"/>
<rect x="1086" y="134" width="19" height="6" fill="#9a9ca0"/>
<rect x="1087" y="143" width="18" height="6" fill="#c9ccd0"/>
<path d="M1081.5,118.5 h28 M1081.5,130.5 h28 M1081.5,141 h28 M1081.5,151 h28 M1082.3,118 v34 M1108.7,118 v34" stroke="#c9a865" stroke-width="2" fill="none"/>
<rect x="1091.4" y="103" width="4.2" height="50.5" fill="#e8ebef"/>
<rect x="1090.4" y="99.6" width="6.2" height="5.4" fill="#e1e4e8"/>
<rect x="1092" y="95.5" width="1" height="4.5" fill="#cfd3d8"/>
<rect x="1091.3" y="115.8" width="4.4" height="6.8" fill="#2a5fe0"/>
<polygon points="1077.6,89.8 1066.4,107.2 1087.8,107.4" fill="url(#refl)"/>
<polygon points="1118.3,91.6 1108,108.4 1127.8,108.4" fill="url(#refl)"/>
<path d="M1077.6,107.5 v9 M1077.6,112 L1065,156.6 M1077.6,112 L1090.8,156.6 M1077.4,112 L1075.8,153 M1070.5,137 L1077,127 L1084.6,137" stroke="#0b0b0f" stroke-width="1.6" fill="none" stroke-linecap="round"/>
<rect x="1075" y="107.8" width="5.2" height="5" fill="#0b0b0f"/>
<path d="M1117.8,108.6 v9 M1117.8,113 L1103.4,156.6 M1117.8,113 L1129,156 M1117.8,113 L1119,156.6 M1110.6,137 L1118,128 L1124,137" stroke="#0b0b0f" stroke-width="1.6" fill="none" stroke-linecap="round"/>
<rect x="1115.2" y="108.8" width="5.2" height="5" fill="#0b0b0f"/>
</g>
</svg>
</body></html>
